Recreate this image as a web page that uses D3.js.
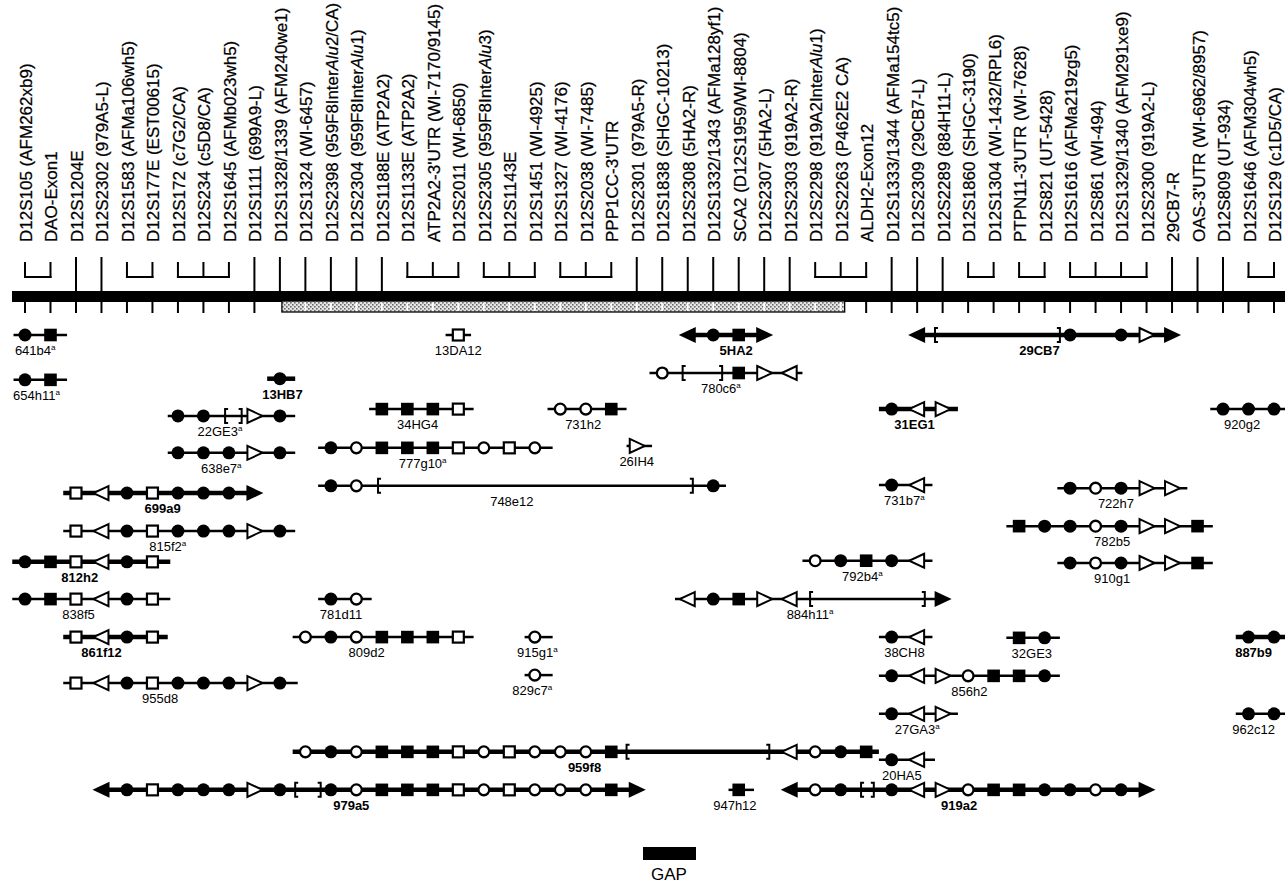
<!DOCTYPE html>
<html lang="en">
  <head>
    <meta charset="UTF-8" />
    <title>12q24 contig</title>
    <script src="https://cdnjs.cloudflare.com/ajax/libs/d3/7.8.5/d3.min.js"></script>
    <style>
      html,
      body {
        margin: 0;
        background: #fff;
        font-family: 'Liberation Sans', Arial, Helvetica, sans-serif;
      }
    </style>
  </head>
  <body>
    <div id="chart"></div>
    <script>
      // markers along the chromosome, left to right (*...* = italic)
      const markerNames = [
        "D12S105 (AFM262xb9)", "DAO-Exon1", "D12S1204E", "D12S2302 (979A5-L)",
        "D12S1583 (AFMa106wh5)", "D12S177E (EST00615)", "D12S172 (c7G2/CA)",
        "D12S234 (c5D8/CA)", "D12S1645 (AFMb023wh5)", "D12S1111 (699A9-L)",
        "D12S1328/1339 (AFM240we1)", "D12S1324 (WI-6457)",
        "D12S2398 (959F8Inter*Alu*2/CA)", "D12S2304 (959F8Inter*Alu*1)",
        "D12S1188E (ATP2A2)", "D12S1133E (ATP2A2)", "ATP2A2-3'UTR (WI-7170/9145)",
        "D12S2011 (WI-6850)", "D12S2305 (959F8Inter*Alu*3)", "D12S1143E",
        "D12S1451 (WI-4925)", "D12S1327 (WI-4176)", "D12S2038 (WI-7485)",
        "PPP1CC-3'UTR", "D12S2301 (979A5-R)", "D12S1838 (SHGC-10213)",
        "D12S2308 (5HA2-R)", "D12S1332/1343 (AFMa128yf1)", "SCA2 (D12S1959/WI-8804)",
        "D12S2307 (5HA2-L)", "D12S2303 (919A2-R)", "D12S2298 (919A2Inter*Alu*1)",
        "D12S2263 (P462E2 CA)", "ALDH2-Exon12", "D12S1333/1344 (AFMa154tc5)",
        "D12S2309 (29CB7-L)", "D12S2289 (884H11-L)", "D12S1860 (SHGC-3190)",
        "D12S1304 (WI-1432/RPL6)", "PTPN11-3'UTR (WI-7628)", "D12S821 (UT-5428)",
        "D12S1616 (AFMa219zg5)", "D12S861 (WI-494)", "D12S1329/1340 (AFM291xe9)",
        "D12S2300 (919A2-L)", "29CB7-R", "OAS-3'UTR (WI-6962/8957)",
        "D12S809 (UT-934)", "D12S1646 (AFM304wh5)", "D12S129 (c1D5/CA)"
      ];

      // markers joined by a bracket above the bar (single = own line)
      const markerGroups = [
        [0, 1], [2], [3], [4, 5], [6, 7, 8], [9], [10], [11], [12], [13], [14],
        [15, 16, 17], [18, 19, 20], [21, 22, 23], [24], [25], [26], [27], [28],
        [29], [30], [31, 32, 33], [34], [35], [36], [37, 38], [39, 40],
        [41, 42, 43, 44], [45], [46], [47], [48, 49]
      ];

      // stretch of the map that is not covered (hatched)
      const gapSpan = [10, 32];

      // clones: name, superscript a, bold, lane, start, end, label at, content
      // fc/oc filled/open circle, fs/os filled/open square,
      // tr/tl open triangle right/left, ar/al end arrow, bl/br bracket
      const clones = [
        ["641b4", true, false, 0, -0.45, 1.65, 0.4, "fc0 fs1"],
        ["13DA12", false, false, 0, 16.5, 17.5, 17, "os17"],
        ["5HA2", false, true, 0, 26, 29, 27.9, "al26 fc27 fs28 ar29"],
        ["29CB7", false, true, 0, 35, 45, 39.8, "al35 bl35.7 br40.6 fc41 fc43 tr44 ar45"],
        ["654h11", true, false, 1.18, -0.45, 1.65, 0.45, "fc0 fs1"],
        ["13HB7", false, true, 1.15, 9.5, 10.6, 10.1, "fc10"],
        ["780c6", true, false, 1.0, 24.5, 30.5, 27.3, "oc25 bl25.8 br27.35 fs28 tr29 tl30"],
        ["22GE3", true, false, 2.13, 5.6, 10.6, 7.65, "fc6 fc7 bl7.85 br8.5 tr9 fc10"],
        ["34HG4", false, false, 1.95, 13.5, 17.6, 15.4, "fs14 fs15 fs16 os17"],
        ["731h2", false, false, 1.95, 20.5, 23.6, 21.9, "oc21 oc22 fs23"],
        ["31EG1", false, true, 1.95, 33.5, 36.6, 34.9, "fc34 tl35 tr36"],
        ["920g2", false, false, 1.95, 46.5, 50.5, 47.75, "fc47 fc48 fc49"],
        ["638e7", true, false, 3.1, 5.6, 10.6, 7.7, "fc6 fc7 fc8 tr9 fc10"],
        ["777g10", true, false, 2.97, 11.5, 20.7, 15.6, "fc12 oc13 fs14 fs15 fs16 os17 oc18 os19 oc20"],
        ["26IH4", false, false, 2.92, 23.6, 24.6, 24, "tr24"],
        ["699a9", false, true, 4.16, 1.5, 9, 5.4, "os2 tl3 fc4 os5 fc6 fc7 fc8 ar9"],
        ["748e12", false, false, 3.97, 11.5, 27.5, 19.1, "fc12 oc13 bl13.85 br26.2 fc27"],
        ["731b7", true, false, 3.95, 33.5, 35.6, 34.5, "fc34 tl35"],
        ["722h7", false, false, 4.03, 40.5, 45.6, 42.8, "fc41 oc42 fc43 tr44 tr45"],
        ["815f2", true, false, 5.16, 1.5, 10.6, 5.6, "os2 tl3 fc4 os5 fc6 fc7 fc8 tr9 fc10"],
        ["782b5", false, false, 5.03, 38.5, 46.6, 42.65, "fs39 fc40 fc41 oc42 fc43 tr44 tr45 fs46"],
        ["812h2", false, true, 5.97, -0.5, 5.7, 2.15, "fc0 fs1 os2 tl3 fc4 os5"],
        ["792b4", true, false, 5.94, 30.5, 35.6, 32.85, "oc31 fc32 fs33 fc34 tl35"],
        ["910g1", false, false, 6.0, 40.5, 46.6, 42.65, "fc41 oc42 fc43 tr44 tr45 fs46"],
        ["838f5", false, false, 6.95, -0.5, 5.7, 2.1, "fc0 fs1 os2 tl3 fc4 os5"],
        ["781d11", false, false, 6.95, 11.5, 13.6, 12.4, "fc12 oc13"],
        ["884h11", true, false, 6.95, 25.5, 36, 30.8, "tl26 fc27 fs28 tr29 tl30 bl30.8 br35.3 ar36"],
        ["861f12", false, true, 7.95, 1.5, 5.6, 3.0, "os2 tl3 fc4 os5"],
        ["809d2", false, false, 7.95, 10.5, 17.6, 13.4, "oc11 fc12 oc13 fs14 fs15 fs16 os17"],
        ["915g1", true, false, 7.95, 19.6, 20.7, 20.1, "oc20"],
        ["38CH8", false, false, 7.95, 33.5, 35.6, 34.5, "fc34 tl35"],
        ["32GE3", false, false, 7.97, 38.5, 40.6, 39.5, "fs39 fc40"],
        ["887b9", false, true, 7.95, 47.5, 50.5, 48.2, "fc48 fc49"],
        ["829c7", true, false, 8.95, 19.6, 20.7, 19.9, "oc20"],
        ["856h2", false, false, 8.97, 33.5, 40.6, 37.05, "fc34 tl35 tr36 oc37 fs38 fs39 fc40"],
        ["955d8", false, false, 9.16, 1.5, 10.7, 5.3, "os2 tl3 fc4 os5 fc6 fc7 fc8 tr9 fc10"],
        ["27GA3", true, false, 9.97, 33.5, 36.6, 35.0, "fc34 tl35 tr36"],
        ["962c12", false, false, 9.97, 47.5, 50.5, 48.2, "fc48 fc49"],
        ["959f8", false, true, 10.97, 10.5, 33.5, 21.95,
          "oc11 fc12 oc13 fs14 fs15 fs16 os17 oc18 os19 oc20 oc21 oc22 fs23 bl23.6 br29.2 tl30 oc31 fc32 fs33"],
        ["20HA5", false, false, 11.18, 33.5, 35.7, 34.4, "fc34 tl35"],
        ["979a5", false, true, 11.97, 3, 24, 12.8,
          "al3 fc4 os5 fc6 fc7 fc8 tr9 fc10 bl10.6 br11.6 fc12 oc13 fs14 fs15 fs16 os17 oc18 os19 oc20 oc21 oc22 fs23 ar24"],
        ["947h12", false, false, 11.97, 27.6, 28.6, 27.85, "fs28"],
        ["919a2", false, true, 11.97, 30, 44, 36.65,
          "al30 oc31 fc32 bl32.8 br33.3 fc34 tl35 tr36 oc37 fs38 fs39 fc40 fc41 oc42 fc43 ar44"]
      ];

      const W = 1285, H = 883;
      const barTop = 291, barH = 11;
      const labelBase = 242;

      const x = d3.scaleLinear().domain([0, markerNames.length - 1]).range([25, 1274]);
      const y = d3.scaleLinear().domain([0, 12]).range([335, 791]);

      const svg = d3.select("#chart").append("svg")
        .attr("width", W).attr("height", H)
        .style("font-family", "'Liberation Sans', Arial, Helvetica, sans-serif");

      const defs = svg.append("defs");
      const pat = defs.append("pattern")
        .attr("id", "hatch").attr("patternUnits", "userSpaceOnUse")
        .attr("width", 4).attr("height", 4);
      pat.append("rect").attr("width", 4).attr("height", 4).attr("fill", "#e4e4e4");
      pat.append("rect").attr("width", 1.6).attr("height", 1.6).attr("fill", "#6a6a6a");
      pat.append("rect").attr("x", 2).attr("y", 2).attr("width", 1.6).attr("height", 1.6).attr("fill", "#6a6a6a");

      // marker labels, shrunk when too long for the space above the bar
      const labels = svg.append("g");
      markerNames.forEach((name, i) => {
        const t = labels.append("text")
          .attr("transform", `translate(${x(i) + 7},${labelBase}) rotate(-90)`)
          .attr("font-size", "17px")
          .attr("fill", "#000")
          .attr("stroke", "#000").attr("stroke-width", 0.25);
        name.split("*").forEach((part, k) => {
          t.append("tspan").text(part).attr("font-style", k % 2 ? "italic" : "normal");
        });
        const len = t.node().getComputedTextLength();
        if (len > labelBase - 3) {
          t.attr("font-size", (17 * (labelBase - 3) / len).toFixed(2) + "px");
        }
      });

      // lines and brackets above the bar
      const above = svg.append("g").attr("stroke", "#000").attr("stroke-width", 2).attr("fill", "none");
      markerGroups.forEach((grp) => {
        if (grp.length === 1) {
          above.append("line")
            .attr("x1", x(grp[0])).attr("x2", x(grp[0]))
            .attr("y1", 257).attr("y2", barTop + 1);
        } else {
          grp.forEach((i) => {
            above.append("line").attr("x1", x(i)).attr("x2", x(i)).attr("y1", 262).attr("y2", 278);
          });
          above.append("line")
            .attr("x1", x(grp[0]) - 1).attr("x2", x(grp[grp.length - 1]) + 1)
            .attr("y1", 277).attr("y2", 277);
        }
      });

      // the bar
      svg.append("rect")
        .attr("x", 12).attr("y", barTop).attr("width", W - 12).attr("height", barH)
        .attr("fill", "#000");

      // ticks under the bar
      svg.append("g").selectAll("line")
        .data(markerNames.map((d, i) => i).filter((i) => i < gapSpan[0] || i > gapSpan[1]))
        .join("line")
        .attr("x1", (i) => x(i)).attr("x2", (i) => x(i))
        .attr("y1", barTop + barH).attr("y2", barTop + barH + 11)
        .attr("stroke", "#000").attr("stroke-width", 2);

      // hatched part
      const hx0 = x(gapSpan[0]) + 2, hx1 = x(gapSpan[1]) + 4;
      svg.append("rect")
        .attr("x", hx0).attr("y", barTop + barH - 1)
        .attr("width", hx1 - hx0).attr("height", 11)
        .attr("fill", "url(#hatch)").attr("stroke", "#000").attr("stroke-width", 1.3);
      svg.append("g").selectAll("line")
        .data(d3.range(gapSpan[0] + 1, gapSpan[1] + 1))
        .join("line")
        .attr("x1", (i) => x(i)).attr("x2", (i) => x(i))
        .attr("y1", barTop + barH + 0.5).attr("y2", barTop + barH + 9)
        .attr("stroke", "#fff").attr("stroke-width", 1.8);

      // symbols
      function symbol(g, type, cx, cy) {
        switch (type) {
          case "fc":
            g.append("circle").attr("cx", cx).attr("cy", cy).attr("r", 6.5).attr("fill", "#000");
            break;
          case "oc":
            g.append("circle").attr("cx", cx).attr("cy", cy).attr("r", 5.4)
              .attr("fill", "#fff").attr("stroke", "#000").attr("stroke-width", 2.3);
            break;
          case "fs":
            g.append("rect").attr("x", cx - 6.3).attr("y", cy - 6.3).attr("width", 12.6).attr("height", 12.6)
              .attr("fill", "#000");
            break;
          case "os":
            g.append("rect").attr("x", cx - 5.5).attr("y", cy - 5.5).attr("width", 11).attr("height", 11)
              .attr("fill", "#fff").attr("stroke", "#000").attr("stroke-width", 2.2);
            break;
          case "tr":
            g.append("path").attr("d", `M${cx - 7},${cy - 7}L${cx + 8},${cy}L${cx - 7},${cy + 7}Z`)
              .attr("fill", "#fff").attr("stroke", "#000").attr("stroke-width", 2).attr("stroke-linejoin", "miter");
            break;
          case "tl":
            g.append("path").attr("d", `M${cx + 7},${cy - 7}L${cx - 8},${cy}L${cx + 7},${cy + 7}Z`)
              .attr("fill", "#fff").attr("stroke", "#000").attr("stroke-width", 2).attr("stroke-linejoin", "miter");
            break;
          case "ar":
            g.append("path").attr("d", `M${cx - 8},${cy - 8}L${cx + 9},${cy}L${cx - 8},${cy + 8}Z`).attr("fill", "#000");
            break;
          case "al":
            g.append("path").attr("d", `M${cx + 8},${cy - 8}L${cx - 9},${cy}L${cx + 8},${cy + 8}Z`).attr("fill", "#000");
            break;
          case "bl":
            g.append("path").attr("d", `M${cx + 3},${cy - 7}H${cx}V${cy + 7}H${cx + 3}`)
              .attr("fill", "none").attr("stroke", "#000").attr("stroke-width", 2);
            break;
          case "br":
            g.append("path").attr("d", `M${cx - 3},${cy - 7}H${cx}V${cy + 7}H${cx - 3}`)
              .attr("fill", "none").attr("stroke", "#000").attr("stroke-width", 2);
            break;
        }
      }

      const rows = svg.append("g");
      clones.forEach(([name, sup, bold, lane, start, end, labelAt, content]) => {
        const cy = y(lane);
        const g = rows.append("g");
        g.append("line")
          .attr("x1", x(start)).attr("x2", x(end))
          .attr("y1", cy).attr("y2", cy)
          .attr("stroke", "#000").attr("stroke-width", bold ? 4.5 : 2.5);
        content.split(" ").forEach((s) => {
          symbol(g, s.slice(0, 2), x(+s.slice(2)), cy);
        });
        const t = g.append("text")
          .attr("x", x(labelAt)).attr("y", cy + 20)
          .attr("text-anchor", "middle")
          .attr("font-size", "13px")
          .attr("font-weight", bold ? "bold" : "normal")
          .text(name);
        if (sup) {
          t.append("tspan").attr("font-size", "8px").attr("dy", "-5").text("a");
        }
      });

      // legend
      svg.append("rect").attr("x", 643).attr("y", 847).attr("width", 53).attr("height", 13).attr("fill", "#000");
      svg.append("text").attr("x", 669).attr("y", 880).attr("text-anchor", "middle")
        .attr("font-size", "17px").text("GAP");
    </script>
  </body>
</html>
